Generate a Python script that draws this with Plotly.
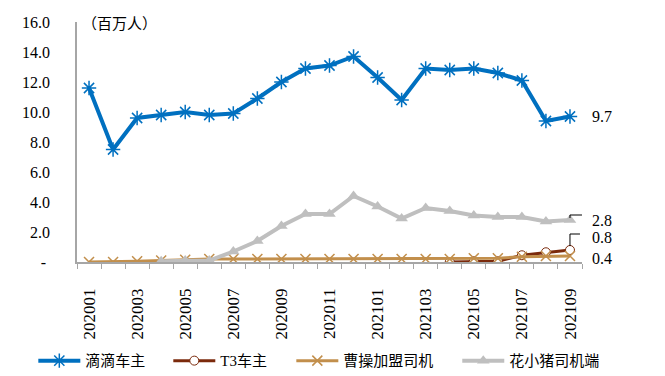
import plotly.graph_objects as go

months = ["202001","202002","202003","202004","202005","202006","202007","202008","202009",
          "202010","202011","202012","202101","202102","202103","202104","202105","202106",
          "202107","202108","202109"]

didi = [11.6, 7.5, 9.6, 9.8, 10.0, 9.8, 9.9, 10.9, 12.0, 12.9, 13.1, 13.7, 12.3, 10.8,
        12.9, 12.8, 12.9, 12.6, 12.1, 9.4, 9.7]
t3 = [None]*15 + [0.0, 0.05, 0.05, 0.45, 0.65, 0.8]
caocao = [0.0, 0.0, 0.05, 0.1, 0.15, 0.2, 0.2, 0.2, 0.2, 0.2, 0.2, 0.2, 0.2, 0.2, 0.2,
          0.2, 0.25, 0.25, 0.35, 0.4, 0.4]
hxz = [None]*3 + [0.05, 0.1, 0.1, 0.7, 1.4, 2.4, 3.2, 3.2, 4.4, 3.7, 2.9, 3.6, 3.4, 3.1,
                  3.0, 3.0, 2.7, 2.8]

ytick_vals = [0, 2, 4, 6, 8, 10, 12, 14, 16]
ytick_text = ["-\u00a0", "2.0", "4.0", "6.0", "8.0", "10.0", "12.0", "14.0", "16.0"]

end_labels = [("9.7", 9.7, 0), ("2.8", 2.8, 0), ("0.8", 0.8, 13), ("0.4", 0.4, -2)]

idx = list(range(len(months)))
label_idx = idx[::2]
label_txt = months[::2]
boundaries = [i - 0.5 for i in idx] + [idx[-1] + 0.5]
last = idx[-1]

NUM_FONT = "Liberation Serif"
CJK_FONT = "Liberation Serif, Noto Sans CJK SC"

BLUE = "#0070C0"
BROWN = "#7B2A0C"
TAN = "#C28F4C"
GRAY = "#BFBFBF"

fig = go.Figure()
fig.add_trace(go.Scatter(x=idx, y=didi, name="滴滴车主", mode="lines+markers", legend="legend",
                         line=dict(color=BLUE, width=4),
                         marker=dict(symbol="asterisk-open", size=12, color=BLUE,
                                     line=dict(color=BLUE, width=1.5))))
fig.add_trace(go.Scatter(x=idx, y=t3, name="T3车主", mode="lines+markers", legend="legend2",
                         line=dict(color=BROWN, width=3),
                         marker=dict(symbol="circle", size=9, color="white",
                                     line=dict(color=BROWN, width=1))))
fig.add_trace(go.Scatter(x=idx, y=caocao, name="曹操加盟司机", mode="lines+markers", legend="legend3",
                         line=dict(color=TAN, width=3),
                         marker=dict(symbol="x-thin-open", size=10, color=TAN,
                                     line=dict(color=TAN, width=1.5))))
fig.add_trace(go.Scatter(x=idx, y=hxz, name="花小猪司机端", mode="lines+markers", legend="legend4",
                         line=dict(color=GRAY, width=4),
                         marker=dict(symbol="triangle-up", size=11, color=GRAY)))

for txt, val, ys in end_labels:
    fig.add_annotation(x=last, y=val, text=txt, showarrow=False, xanchor="left",
                       xshift=20, yshift=ys, font=dict(family=NUM_FONT, size=16, color="black"))

# leader lines
fig.add_shape(type="path", xref="x", yref="y", xsizemode="pixel", ysizemode="pixel",
              xanchor=last, yanchor=hxz[-1], path="M 0 2 L 0 5 L 12 5",
              line=dict(color="black", width=1))
fig.add_shape(type="path", xref="x", yref="y", xsizemode="pixel", ysizemode="pixel",
              xanchor=last, yanchor=t3[-1], path="M 0 4 L 0 16 L 10 16",
              line=dict(color="black", width=1))

fig.add_annotation(xref="paper", yref="paper", x=0.005, y=1.0, text="（百万人）",
                   showarrow=False, xanchor="left", yanchor="middle",
                   font=dict(family="Noto Sans CJK SC", size=15, color="black"))

leg_common = dict(orientation="h", y=-0.412, xanchor="left", yanchor="middle",
                  font=dict(family=CJK_FONT, size=15, color="black"), itemwidth=42,
                  bgcolor="rgba(0,0,0,0)")

fig.update_layout(
    width=657, height=368,
    margin=dict(l=69, r=83, t=14, b=114, autoexpand=False),
    paper_bgcolor="white", plot_bgcolor="white",
    font=dict(family=NUM_FONT, size=16, color="black"),
    showlegend=True,
    legend=dict(x=-0.0865, **leg_common),
    legend2=dict(x=0.1808, **leg_common),
    legend3=dict(x=0.4244, **leg_common),
    legend4=dict(x=0.753, **leg_common),
    xaxis=dict(range=[-0.5, last + 0.5], tickmode="array", tickvals=label_idx,
               ticktext=label_txt, tickangle=-90, ticks="",
               minor=dict(tickmode="array", tickvals=boundaries, ticks="outside",
                          ticklen=5, tickcolor="#A6A6A6", showgrid=False),
               showline=True, linecolor="#A6A6A6", linewidth=1.5,
               showgrid=False, zeroline=False, ticklabelstandoff=18,
               tickfont=dict(family=NUM_FONT, size=17)),
    yaxis=dict(range=[0, 16], tickmode="array", tickvals=ytick_vals, ticktext=ytick_text,
               showline=True, linecolor="#A6A6A6", linewidth=1.5, showgrid=False,
               zeroline=False, ticks="", ticklabelstandoff=22,
               tickfont=dict(family=NUM_FONT, size=16)),
)

fig.write_html("out.html")
